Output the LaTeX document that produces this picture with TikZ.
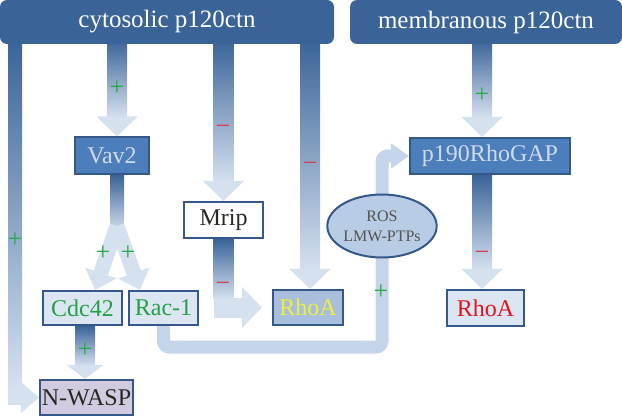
\documentclass[tikz,border=0pt]{standalone}
\usepackage{fontspec}
\setmainfont{Liberation Serif}
\usetikzlibrary{arrows.meta,calc,shapes.geometric,backgrounds}

\definecolor{hdr}{RGB}{58,100,152}
\definecolor{boxline}{RGB}{52,88,138}
\definecolor{boxdark}{RGB}{76,126,188}
\definecolor{boxtext}{RGB}{205,218,236}
\definecolor{boxlight}{RGB}{220,230,242}
\definecolor{arrlight}{RGB}{214,225,240}
\definecolor{racarrow}{RGB}{196,212,234}
\definecolor{rhoafill}{RGB}{168,190,220}
\definecolor{ellfill}{RGB}{184,204,229}
\definecolor{lavender}{RGB}{210,202,224}
\definecolor{txtdark}{RGB}{40,40,35}
\definecolor{txtgreen}{RGB}{34,160,70}
\definecolor{txtred}{RGB}{225,20,30}
\definecolor{txtyellow}{RGB}{240,240,60}
\definecolor{plusgreen}{RGB}{40,170,70}
\definecolor{minusred}{RGB}{220,60,80}

\begin{document}
\begin{tikzpicture}[x=1pt,y=-1pt]
    \tikzset{hdrbox/.style={fill=hdr, rounded corners=7pt, text=white, minimum height=44pt,
                font=\fontsize{25}{30}\selectfont},
            box/.style={draw=boxline, line width=2pt, minimum height=35pt, inner sep=1pt,
                font=\fontsize{24}{28}\selectfont},
            darkbox/.style={box, fill=boxdark, text=boxtext},
            lightbox/.style={box, fill=boxlight},
            fat/.style={arrlight, line width=20pt, -{Triangle[width=40pt,length=20pt]}},
            slim/.style={arrlight, line width=14pt, -{Triangle[width=30pt,length=18pt]}},
            shaft/.style={top color=hdr, bottom color=arrlight},
            plus/.style={text=plusgreen, font=\fontsize{26}{26}\selectfont},
            minus/.style={text=minusred, font=\fontsize{26}{26}\selectfont}}
    \useasboundingbox (0,0) rectangle (622,417);

    % boxes
    \node[hdrbox, minimum width=334pt] (cyto) at (167,22) {cytosolic p120ctn};
    \node[hdrbox, minimum width=272pt] (memb) at (486,22) {membranous p120ctn};
    \node[darkbox, minimum width=74pt, minimum height=37pt] (vav) at (112,156) {Vav2};
    \node[box, fill=white, text=txtdark, minimum width=79pt, minimum height=36pt] (mrip) at (223.5,220) {Mrip};
    \node[box, fill=rhoafill, text=txtyellow, minimum width=70pt] (rhoa1) at (308,307.5) {RhoA};
    \node[lightbox, text=txtgreen, minimum width=79pt, minimum height=34pt] (cdc) at (82.5,308) {Cdc42};
    \node[lightbox, text=txtgreen, minimum width=69pt, minimum height=34pt] (rac) at (163.5,308) {Rac-1};
    \node[box, fill=lavender, text=txtdark, minimum width=93pt] (nwasp) at (86.5,397.5) {N-WASP};
    \node[ellipse, draw=boxline, line width=2pt, fill=ellfill, text=txtdark!80, align=center,
          minimum width=91pt, minimum height=63pt, inner sep=0pt,
          font=\fontsize{16}{20}\selectfont] (ros) at (382,226) {ROS\\LMW-PTPs};
    \node[darkbox, minimum width=160pt, minimum height=36pt] (gap) at (490,156) {p190RhoGAP};
    \node[lightbox, text=txtred, minimum width=77pt, minimum height=36pt] (rhoa2) at (485.5,308) {RhoA};

    % arrows, behind the boxes
    \coordinate (split) at (117,232);
    \coordinate (bend) at (382,347);
    \begin{scope}[on background layer]
    \draw[slim] (cyto.south -| 15,0) |- (nwasp.west);
    \shade[shaft] (8,40) rectangle (22,390);
    \draw[racarrow, line width=13pt, rounded corners=6pt, -{Triangle[width=24pt,length=18pt]}]
        (rac.south) |- (bend) |- (gap.west);
    \draw[fat] (cyto.south -| 117,0) -- (vav.north -| 117,0);
    \shade[shaft] (107,40) rectangle (127,118);
    \draw[fat] (cyto.south -| mrip.north) -- (mrip.north);
    \shade[shaft] (213.5,40) rectangle (233.5,183);
    \draw[fat] (cyto.south -| 310,0) -- (rhoa1.north -| 310,0);
    \shade[shaft] (300,40) rectangle (320,270);
    \draw[fat] (memb.south -| 482,0) -- (gap.north -| 482,0);
    \shade[shaft] (472,40) rectangle (492,118);

    \draw[arrlight, line width=14pt] (vav.south -| split) -- (split);
    \shade[shaft] ($(vav.south -| split)+(-7,0)$) rectangle ($(split)+(7,0)$);
    \draw[arrlight, line width=15pt, -{Triangle[width=32pt,length=18pt]}] ($(split)+(0,-6)$) -- (cdc.north -| 95,0);
    \draw[arrlight, line width=15pt, -{Triangle[width=32pt,length=18pt]}] ($(split)+(0,-6)$) -- (rac.north -| 140,0);
    \draw[fat] (mrip.south) |- ($(rhoa1.west)+(-10,0)$);
    \shade[shaft] ($(mrip.south)+(-10,0)$) rectangle ($(mrip.south)+(10,60)$);
    \draw[fat, -{Triangle[width=36pt,length=14pt]}] (cdc.south -| 85,0) -- (nwasp.north -| 85,0);
    \shade[shaft] ($(cdc.south -| 85,0)+(-10,0)$) rectangle (95,366);
    \draw[fat] (gap.south -| 482,0) -- (rhoa2.north -| 482,0);
    \shade[shaft] ($(gap.south -| 482,0)+(-10,0)$) rectangle (492,270);
    \end{scope}

    % signs
    \node[plus] (p1) at (117,88) {+};
    \node[minus] (m1) at (223,130) {−};
    \node[minus] (m2) at (310,167) {−};
    \node[plus] (p2) at (482,95) {+};
    \node[plus] (p3) at (15,240) {+};
    \node[plus] (p4) at (103,253) {+};
    \node[plus] (p5) at (128,253) {+};
    \node[minus] (m3) at (223,287) {−};
    \node[plus] (p6) at (85,350) {+};
    \node[plus] (p7) at (381,292) {+};
    \node[minus] (m4) at (482,256) {−};
\end{tikzpicture}
\end{document}
